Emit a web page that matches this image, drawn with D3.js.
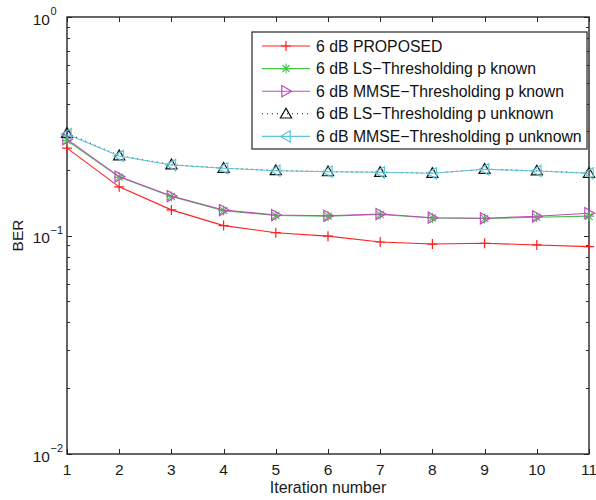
<!DOCTYPE html>
<html>
<head>
<meta charset="utf-8">
<script src="https://cdn.jsdelivr.net/npm/d3@7/dist/d3.min.js"></script>
<style>
  html, body { margin: 0; padding: 0; background: #fff; }
  svg { display: block; font-family: "Liberation Sans", Arial, Helvetica, sans-serif; }
</style>
</head>
<body>
<svg id="chart" width="596" height="500"></svg>
<script>
// Iteration index shared by all curves
const iterations = [1, 2, 3, 4, 5, 6, 7, 8, 9, 10, 11];

// BER per iteration for each detector
const proposed      = [0.251, 0.167, 0.131, 0.111, 0.103, 0.0993, 0.0934, 0.0914, 0.0921, 0.0905, 0.0889];
const lsKnown       = [0.272, 0.185, 0.151, 0.130, 0.1234, 0.1226, 0.1248, 0.1203, 0.1196, 0.1212, 0.1226];
const mmseKnown     = [0.276, 0.186, 0.1516, 0.1308, 0.1241, 0.1231, 0.1254, 0.1206, 0.1199, 0.1224, 0.1265];
const lsUnknown     = [0.294, 0.232, 0.211, 0.2035, 0.1985, 0.1962, 0.1948, 0.1928, 0.2012, 0.1978, 0.1930];
const mmseUnknown   = [0.291, 0.2312, 0.2102, 0.2030, 0.1980, 0.1959, 0.1946, 0.1926, 0.2009, 0.1974, 0.1926];

const seriesNames = [
  "6 dB PROPOSED",
  "6 dB LS\u2212Thresholding p known",
  "6 dB MMSE\u2212Thresholding p known",
  "6 dB LS\u2212Thresholding p unknown",
  "6 dB MMSE\u2212Thresholding p unknown"
];

const xTicks = [1, 2, 3, 4, 5, 6, 7, 8, 9, 10, 11];
const yDecades = [0.01, 0.1, 1];
const yDecadeExp = ["\u22122", "\u22121", "0"];

const series = [
  { name: seriesNames[0], values: proposed,    color: "#ff1f1f", marker: "plus",  dash: null },
  { name: seriesNames[1], values: lsKnown,     color: "#47c447", marker: "star",  dash: null },
  { name: seriesNames[2], values: mmseKnown,   color: "#bf4abf", marker: "right", dash: null },
  { name: seriesNames[3], values: lsUnknown,   color: "#111111", marker: "up",    dash: "1,4" },
  { name: seriesNames[4], values: mmseUnknown, color: "#5ec5d6", marker: "left",  dash: null }
];

const svg = d3.select("#chart");
const L = 67, R = 589, T = 17, B = 454;

const x = d3.scaleLinear().domain([1, 11]).range([L, R]);
const y = d3.scaleLog().domain([0.01, 1]).range([B, T]);

const axisColor = "#262626";
const textColor = "#1a1a1a";

// Minor and major ticks on all four sides (inward)
const minorVals = [];
for (let d = 0.01; d < 1; d *= 10) {
  for (let k = 2; k <= 9; k++) minorVals.push(d * k);
}
const tickG = svg.append("g").attr("stroke", axisColor).attr("stroke-width", 1);
minorVals.forEach(v => {
  const yy = Math.round(y(v)) + 0.5;
  tickG.append("line").attr("x1", L).attr("x2", L + 3).attr("y1", yy).attr("y2", yy);
  tickG.append("line").attr("x1", R).attr("x2", R - 3).attr("y1", yy).attr("y2", yy);
});
yDecades.forEach(v => {
  const yy = Math.round(y(v)) + 0.5;
  tickG.append("line").attr("x1", L).attr("x2", L + 5).attr("y1", yy).attr("y2", yy);
  tickG.append("line").attr("x1", R).attr("x2", R - 5).attr("y1", yy).attr("y2", yy);
});
xTicks.forEach(v => {
  const xx = Math.round(x(v)) + 0.5;
  tickG.append("line").attr("x1", xx).attr("x2", xx).attr("y1", B).attr("y2", B - 5);
  tickG.append("line").attr("x1", xx).attr("x2", xx).attr("y1", T).attr("y2", T + 5);
});

// Plot frame
svg.append("rect")
  .attr("x", L).attr("y", T).attr("width", R - L).attr("height", B - T)
  .attr("fill", "none").attr("stroke", axisColor).attr("stroke-width", 1.4);

// Tick labels
svg.append("g").selectAll("text").data(xTicks).join("text")
  .attr("x", d => x(d)).attr("y", 474.5)
  .attr("text-anchor", "middle").attr("font-size", 15.5).attr("fill", textColor)
  .text(d => d);

const yLab = svg.append("g");
yDecades.forEach((v, i) => {
  yLab.append("text")
    .attr("x", 50).attr("y", y(v) + 7.5)
    .attr("text-anchor", "end").attr("font-size", 15.5).attr("fill", textColor)
    .text("10");
  yLab.append("text")
    .attr("x", 50.5).attr("y", y(v) - 2)
    .attr("font-size", 11).attr("fill", textColor)
    .text(yDecadeExp[i]);
});

// Axis titles
svg.append("text").attr("x", 328).attr("y", 493)
  .attr("text-anchor", "middle").attr("font-size", 16).attr("fill", textColor)
  .text("Iteration number");
svg.append("text").attr("transform", `translate(23,${(T + B) / 2}) rotate(-90)`)
  .attr("text-anchor", "middle").attr("font-size", 15.5).attr("fill", textColor)
  .text("BER");

// Marker shapes
function drawMarker(g, type, cx, cy, color) {
  const s = 5;
  if (type === "plus") {
    g.append("path").attr("d", `M${cx - s},${cy}H${cx + s}M${cx},${cy - s}V${cy + s}`)
      .attr("stroke", color).attr("stroke-width", 1.2).attr("fill", "none");
  } else if (type === "star") {
    const a = s * 0.72;
    g.append("path").attr("d",
      `M${cx - s},${cy}H${cx + s}M${cx},${cy - s}V${cy + s}` +
      `M${cx - a},${cy - a}L${cx + a},${cy + a}M${cx - a},${cy + a}L${cx + a},${cy - a}`)
      .attr("stroke", color).attr("stroke-width", 1.1).attr("fill", "none");
  } else {
    const r = 5.6;
    let pts;
    if (type === "up") pts = [[cx, cy - r], [cx - r, cy + r * 0.75], [cx + r, cy + r * 0.75]];
    if (type === "right") pts = [[cx + r, cy], [cx - r * 0.75, cy - r], [cx - r * 0.75, cy + r]];
    if (type === "left") pts = [[cx - r, cy], [cx + r * 0.75, cy - r], [cx + r * 0.75, cy + r]];
    g.append("path").attr("d", "M" + pts.map(p => p.join(",")).join("L") + "Z")
      .attr("stroke", color).attr("stroke-width", 1.2).attr("fill", "none");
  }
}

// Curves
const line = d3.line().x((d, i) => x(iterations[i])).y(d => y(d));
const plotG = svg.append("g");
series.forEach(s => {
  const g = plotG.append("g");
  g.append("path").attr("d", line(s.values))
    .attr("fill", "none").attr("stroke", s.color).attr("stroke-width", 1.1)
    .attr("stroke-dasharray", s.dash);
  s.values.forEach((v, i) => drawMarker(g, s.marker, x(iterations[i]), y(v), s.color));
});

// Legend
const lgX = 252, lgY = 32, lgW = 335, lgH = 117, rowH = 22.6;
const lg = svg.append("g");
lg.append("rect").attr("x", lgX).attr("y", lgY).attr("width", lgW).attr("height", lgH)
  .attr("fill", "#fff").attr("stroke", axisColor).attr("stroke-width", 1.2);
series.forEach((s, i) => {
  const cy = lgY + 14 + i * rowH;
  const g = lg.append("g");
  g.append("line").attr("x1", 262).attr("x2", 310).attr("y1", cy).attr("y2", cy)
    .attr("stroke", s.color).attr("stroke-width", 1.1).attr("stroke-dasharray", s.dash);
  drawMarker(g, s.marker, 286, cy, s.color);
  g.append("text").attr("x", 316).attr("y", cy + 5.5)
    .attr("font-size", 15.8).attr("fill", "#111").text(s.name);
});
</script>
</body>
</html>
